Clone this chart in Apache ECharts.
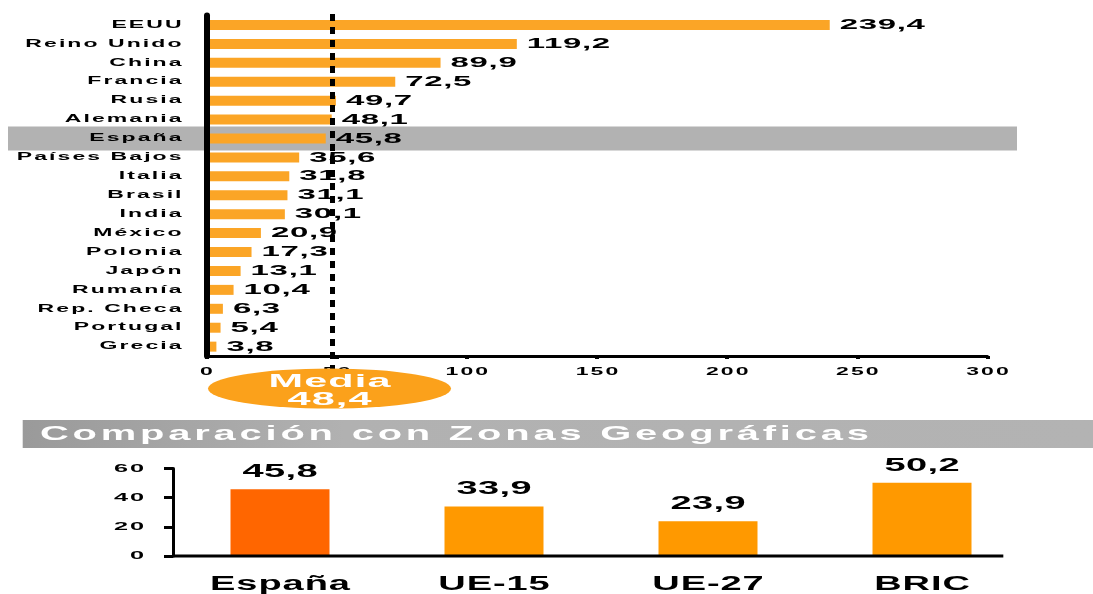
<!DOCTYPE html>
<html>
<head>
<meta charset="utf-8">
<script src="https://cdn.jsdelivr.net/npm/echarts@6/dist/echarts.min.js"></script>
<style>
  html, body { margin: 0; padding: 0; background: #fff; }
  #chart { width: 1093px; height: 594px; }
</style>
</head>
<body>
<div id="chart"></div>
<script>
// ---- data ----
const countries = ['EEUU', 'Reino Unido', 'China', 'Francia', 'Rusia', 'Alemania', 'España',
  'Países Bajos', 'Italia', 'Brasil', 'India', 'México', 'Polonia', 'Japón', 'Rumanía',
  'Rep. Checa', 'Portugal', 'Grecia'];
const countryValues = [239.4, 119.2, 89.9, 72.5, 49.7, 48.1, 45.8, 35.6, 31.8, 31.1, 30.1,
  20.9, 17.3, 13.1, 10.4, 6.3, 5.4, 3.8];
const highlightCountry = 'España';
const mediaLabel = 'Media';
const mediaValue = 48.4;
const countryTicks = [0, 50, 100, 150, 200, 250, 300];

const zoneTitle = 'Comparación con Zonas Geográficas';
const zones = ['España', 'UE-15', 'UE-27', 'BRIC'];
const zoneValues = [45.8, 33.9, 23.9, 50.2];
const zoneTicks = [0, 20, 40, 60];

// ---- wide, tracked lettering ----
// Each font size used below gets a horizontal stretch and extra tracking.
const TEXT_STRETCH = {
  10: [2.3, 0.9],
  11: [2.3, 0.8],
  15: [2.2, 0.3],
  18: [2.3, 0.5],
  19: [2.0, 0.2],
  20: [1.9, 0.5],
  21: [1.9, 2.0]
};
(function () {
  const proto = CanvasRenderingContext2D.prototype;
  ['fillText', 'strokeText'].forEach(function (fn) {
    const base = proto[fn];
    proto[fn] = function (text, x, y, maxWidth) {
      const m = /(\d+(?:\.\d+)?)px/.exec(this.font);
      const s = m && TEXT_STRETCH[Math.round(+m[1])];
      if (!s) return base.apply(this, arguments);
      const sx = s[0], ls = s[1];
      let dx = 0;
      if (this.textAlign === 'right' || this.textAlign === 'end') dx = ls * sx;
      else if (this.textAlign === 'center') dx = ls * sx / 2;
      this.save();
      this.translate(x + dx, y);
      this.scale(sx, 1);
      this.letterSpacing = ls + 'px';
      base.call(this, text, 0, 0);
      this.restore();
    };
  });
})();

const FONT = '"Liberation Sans", Arial, sans-serif';
const fmt = v => Number(v).toFixed(1).replace('.', ',');

const chart = echarts.init(document.getElementById('chart'), null, { renderer: 'canvas' });

chart.setOption({
  animation: false,
  textStyle: { fontFamily: FONT },
  grid: [
    { left: 206.5, top: 15.5, width: 781, height: 340.6 },
    { left: 173, top: 468.5, width: 856, height: 91 }
  ],
  xAxis: [
    {
      gridIndex: 0, type: 'value',
      min: countryTicks[0], max: countryTicks[countryTicks.length - 1],
      interval: countryTicks[1] - countryTicks[0],
      axisLine: { show: true, lineStyle: { color: '#000', width: 3 } },
      axisTick: { show: true, length: 3, lineStyle: { color: '#000', width: 4 } },
      splitLine: { show: false },
      axisLabel: { fontSize: 10, fontWeight: 'bold', color: '#000', margin: 11, fontFamily: FONT }
    },
    {
      gridIndex: 1, type: 'category', data: zones,
      axisLine: { show: false },
      axisTick: { show: false },
      axisLabel: { fontSize: 20, fontWeight: 'bold', color: '#000', margin: 18, fontFamily: FONT }
    }
  ],
  yAxis: [
    {
      gridIndex: 0, type: 'category', data: countries, inverse: true, z: 5,
      axisLine: { show: true, lineStyle: { color: '#000', width: 6 } },
      axisTick: { show: false },
      axisLabel: { interval: 0, fontSize: 10, fontWeight: 'bold', color: '#000', margin: 25, fontFamily: FONT }
    },
    {
      gridIndex: 1, type: 'value', z: 5,
      min: zoneTicks[0], max: zoneTicks[zoneTicks.length - 1],
      interval: zoneTicks[1] - zoneTicks[0],
      axisLine: { show: true, lineStyle: { color: '#000', width: 3 } },
      axisTick: { show: true, length: 9, lineStyle: { color: '#000', width: 3 } },
      splitLine: { show: false },
      axisLabel: { fontSize: 11, fontWeight: 'bold', color: '#000', margin: 29, fontFamily: FONT }
    }
  ],
  graphic: [
    {
      type: 'rect', left: 22.7, top: 420, silent: true,
      shape: { width: 1071, height: 28 },
      style: {
        fill: new echarts.graphic.LinearGradient(0, 0, 1, 0, [
          { offset: 0, color: '#9A9A9A' },
          { offset: 0.3, color: '#B1B1B1' },
          { offset: 1, color: '#B3B3B3' }
        ])
      }
    },
    {
      type: 'text', x: 40, y: 434.5, silent: true,
      style: {
        text: zoneTitle, fill: '#FFFFFF',
        font: 'bold 21px ' + FONT, align: 'left', verticalAlign: 'middle'
      }
    }
  ],
  series: [
    {
      // grey band behind the highlighted country
      type: 'custom', xAxisIndex: 0, yAxisIndex: 0, z: 1, silent: true, clip: false,
      encode: { x: 0, y: 1 },
      data: [[0, highlightCountry]],
      renderItem: (params, api) => {
        const c = api.coord([0, api.value(1)]);
        return {
          type: 'rect',
          shape: { x: c[0] - 198.5, y: c[1] - 12, width: 1009, height: 24 },
          style: { fill: '#B2B2B2' }
        };
      }
    },
    {
      type: 'bar', xAxisIndex: 0, yAxisIndex: 0, z: 2,
      data: countryValues,
      barWidth: 10,
      itemStyle: { color: '#FBA526' },
      label: {
        show: true, position: 'right', distance: 10,
        formatter: p => fmt(p.value),
        fontSize: 15, fontWeight: 'bold', color: '#000', fontFamily: FONT
      }
    },
    {
      // dashed average line with its oval tag
      type: 'custom', xAxisIndex: 0, yAxisIndex: 0, z: 10, silent: true, clip: false,
      encode: { x: 0, y: 1 },
      data: [[mediaValue, countries[0]]],
      renderItem: (params, api) => {
        const x = api.coord([api.value(0), 0])[0];
        const y0 = api.coord([0, 0])[1];
        const band = api.coord([0, 1])[1] - y0;
        const yTop = y0 - band / 2;
        const yAxisLine = api.coord([0, countries.length - 1])[1] + band / 2;
        const cy = yAxisLine + 32.5;
        const rx = 121.5, ry = 20;
        return {
          type: 'group',
          children: [
            {
              type: 'line',
              shape: { x1: x, y1: yTop - 1.5, x2: x, y2: cy },
              style: { stroke: '#000', lineWidth: 5, lineDash: [7, 6] }
            },
            {
              type: 'circle', x: x - 3, y: cy, scaleY: ry / rx,
              shape: { cx: 0, cy: 0, r: rx },
              style: { fill: '#FBA11B' }
            },
            {
              type: 'text', x: x - 3, y: cy + 2,
              style: {
                text: mediaLabel + '\n' + fmt(api.value(0)),
                fill: '#FFFFFF', font: 'bold 18px ' + FONT,
                align: 'center', verticalAlign: 'middle', lineHeight: 18
              }
            }
          ]
        };
      }
    },
    {
      // baseline of the zone chart, ending just past the last bar
      type: 'custom', xAxisIndex: 1, yAxisIndex: 1, z: 4, silent: true, clip: false,
      encode: { x: 0, y: 1 },
      data: [[zones[0], 0]],
      renderItem: (params, api) => {
        const first = api.coord([0, 0]);
        const band = api.coord([1, 0])[0] - first[0];
        const xEnd = api.coord([zones.length - 1, 0])[0] + band * 0.38;
        return {
          type: 'line',
          shape: { x1: first[0] - band / 2, y1: first[1], x2: xEnd, y2: first[1] },
          style: { stroke: '#000', lineWidth: 3 }
        };
      }
    },
    {
      type: 'bar', xAxisIndex: 1, yAxisIndex: 1,
      data: zoneValues.map((v, i) => ({
        value: v,
        itemStyle: { color: zones[i] === highlightCountry ? '#FF6600' : '#FF9900' }
      })),
      barWidth: 99,
      label: {
        show: true, position: 'top', distance: 8,
        formatter: p => fmt(p.value),
        fontSize: 19, fontWeight: 'bold', color: '#000', fontFamily: FONT
      }
    }
  ]
});
</script>
</body>
</html>
